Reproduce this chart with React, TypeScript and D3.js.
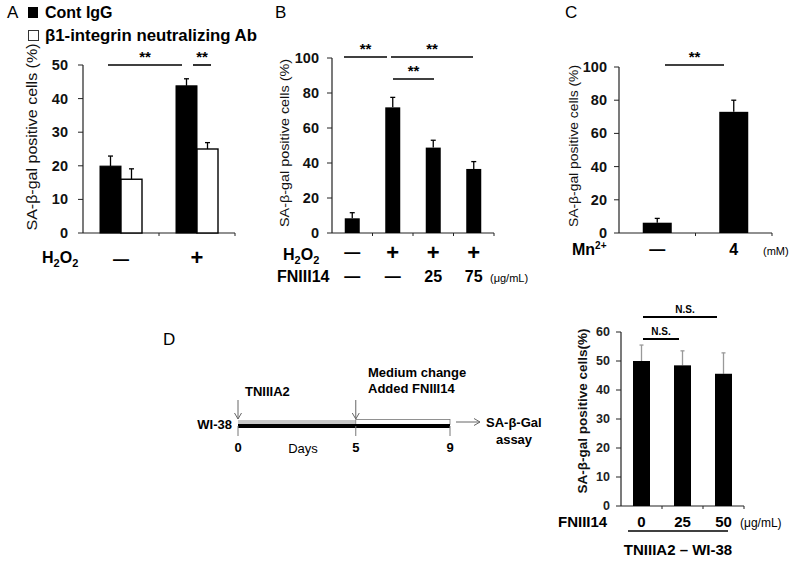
import React from "react";
import * as d3 from "d3";

// ---------- DATA ----------
const groupsA = ["—", "+"];
const contIgG = [19.9, 43.8];
const contIgGErr = [3.0, 2.1];
const neutAb = [16.0, 25.0];
const neutAbErr = [3.1, 1.9];
const ticksA = [0, 10, 20, 30, 40, 50];

const h2o2B = ["—", "+", "+", "+"];
const fnB = ["—", "—", "25", "75"];
const valuesB = [8.4, 71.8, 48.8, 36.6];
const errB = [3.2, 5.7, 4.2, 4.2];
const ticksB = [0, 20, 40, 60, 80, 100];

const mnC = ["—", "4"];
const valuesC = [6.2, 73.0];
const errC = [2.6, 7.0];
const ticksC = [0, 20, 40, 60, 80, 100];

const fnD = ["0", "25", "50"];
const valuesD = [50.0, 48.5, 45.6];
const errD = [5.5, 5.0, 7.2];
const ticksD = [0, 10, 20, 30, 40, 50, 60];

const timelineTicks = [0, 5, 9];

const FONT = "'Liberation Sans', Arial, Helvetica, sans-serif";

type AxisProps = {
  x0: number; x1: number; y: d3.ScaleLinear<number, number>; ticks: number[];
  bandTicks: number[]; fontSize: number; weight?: string | number; labelColor?: string; gap?: number;
};

function Axes({ x0, x1, y, ticks, bandTicks, fontSize, weight = "bold", labelColor = "#111", gap = 13 }: AxisProps) {
  const y0 = y(0);
  const yTop = y(ticks[ticks.length - 1]);
  return (
    <g>
      <line x1={x0} x2={x0} y1={yTop} y2={y0} stroke="#222" strokeWidth={1.2} />
      <line x1={x0} x2={x1} y1={y0} y2={y0} stroke="#222" strokeWidth={1.2} />
      {ticks.map((t) => (
        <g key={t}>
          <line x1={x0 - 5} x2={x0} y1={y(t)} y2={y(t)} stroke="#222" strokeWidth={1} />
          <text x={x0 - gap} y={y(t)} dy="0.35em" textAnchor="end" fontSize={fontSize} fontWeight={weight} fill={labelColor}>
            {t}
          </text>
        </g>
      ))}
      {bandTicks.map((bx, i) => (
        <line key={i} x1={bx} x2={bx} y1={y0} y2={y0 + 3} stroke="#222" strokeWidth={1} />
      ))}
    </g>
  );
}

function ErrBar({ x, yv, ye, color = "#000", cap = 5 }: { x: number; yv: number; ye: number; color?: string; cap?: number }) {
  return (
    <g>
      <line x1={x} x2={x} y1={yv} y2={ye} stroke={color} strokeWidth={1.3} />
      <line x1={x - cap / 2} x2={x + cap / 2} y1={ye} y2={ye} stroke={color} strokeWidth={1.3} />
    </g>
  );
}

function Sig({ x1, x2, y, label, fontSize = 15 }: { x1: number; x2: number; y: number; label: string; fontSize?: number }) {
  return (
    <g>
      <line x1={x1} x2={x2} y1={y} y2={y} stroke="#000" strokeWidth={1.6} />
      <text x={(x1 + x2) / 2} y={y - 3} textAnchor="middle" fontSize={fontSize} fontWeight="bold">
        {label}
      </text>
    </g>
  );
}

function YLabel({ x, cy, len, text, size = 13, weight = "normal" }: { x: number; cy: number; len: number; text: string; size?: number; weight?: string }) {
  return (
    <text
      transform={`translate(${x},${cy}) rotate(-90)`}
      textAnchor="middle"
      fontSize={size}
      fontWeight={weight}
      textLength={len}
      lengthAdjust="spacingAndGlyphs"
      fill="#111"
    >
      {text}
    </text>
  );
}

function PanelA() {
  const x0 = 83, x1 = 235;
  const y = d3.scaleLinear().domain([0, 50]).range([233, 65]);
  const xb = d3.scaleBand<string>().domain(groupsA).range([x0, x1]).paddingInner(0).paddingOuter(0);
  const bw = 21;
  const bandTicks = [x0 + xb.step(), x1];
  return (
    <g>
      <text x={7} y={18} fontSize={17}>A</text>
      <rect x={28} y={7} width={10} height={11} fill="#000" />
      <text x={45} y={18} fontSize={16} fontWeight="bold">Cont IgG</text>
      <rect x={28.5} y={30.5} width={10} height={10} fill="#fff" stroke="#333" strokeWidth={1} />
      <text x={45} y={41} fontSize={16} fontWeight="bold" textLength={212} lengthAdjust="spacingAndGlyphs">β1-integrin neutralizing Ab</text>
      <Axes x0={x0} x1={x1} y={y} ticks={ticksA} bandTicks={bandTicks} fontSize={14.5} gap={15} />
      <YLabel x={37} cy={137} len={187} text="SA-β-gal positive cells (%)" size={14} />
      {groupsA.map((g, i) => {
        const c = (xb(g) as number) + xb.bandwidth() / 2;
        return (
          <g key={g}>
            <rect x={c - bw} y={y(contIgG[i])} width={bw} height={y(0) - y(contIgG[i])} fill="#000" stroke="#000" />
            <rect x={c} y={y(neutAb[i])} width={bw} height={y(0) - y(neutAb[i])} fill="#fff" stroke="#000" strokeWidth={1.4} />
            <ErrBar x={c - bw / 2} yv={y(contIgG[i])} ye={y(contIgG[i] + contIgGErr[i])} />
            <ErrBar x={c + bw / 2} yv={y(neutAb[i])} ye={y(neutAb[i] + neutAbErr[i])} />
            <text x={c} y={265} textAnchor="middle" fontSize={g === "+" ? 22 : 16} fontWeight="bold">{g}</text>
          </g>
        );
      })}
      <Sig x1={108} x2={182} y={65} label="**" />
      <Sig x1={193} x2={211} y={65} label="**" />
      <text x={42} y={263} fontSize={16} fontWeight="bold">
        H<tspan fontSize={11} dy={4}>2</tspan><tspan dy={-4}>O</tspan><tspan fontSize={11} dy={4}>2</tspan>
      </text>
    </g>
  );
}

function PanelB() {
  const x0 = 332, x1 = 494;
  const y = d3.scaleLinear().domain([0, 100]).range([233, 58]);
  const idx = valuesB.map((_, i) => String(i));
  const xb = d3.scaleBand<string>().domain(idx).range([x0, x1]);
  const bw = 15;
  const bandTicks = idx.slice(1).map((d) => xb(d) as number).concat([x1]);
  return (
    <g>
      <text x={275} y={18} fontSize={17}>B</text>
      <Axes x0={x0} x1={x1} y={y} ticks={ticksB} bandTicks={bandTicks} fontSize={14.5} gap={13} />
      <YLabel x={289} cy={143} len={168} text="SA-β-gal positive cells (%)" size={13} />
      {valuesB.map((v, i) => {
        const c = (xb(String(i)) as number) + xb.bandwidth() / 2;
        return (
          <g key={i}>
            <rect x={c - bw / 2} y={y(v)} width={bw} height={y(0) - y(v)} fill="#000" />
            <ErrBar x={c} yv={y(v)} ye={y(v + errB[i])} />
            <text x={c} y={h2o2B[i] === "+" ? 260 : 258} textAnchor="middle" fontSize={h2o2B[i] === "+" ? 22 : 16} fontWeight="bold">{h2o2B[i]}</text>
            <text x={c} y={282} textAnchor="middle" fontSize={16} fontWeight="bold">{fnB[i]}</text>
          </g>
        );
      })}
      <Sig x1={344} x2={387} y={57} label="**" />
      <Sig x1={391} x2={473} y={57} label="**" />
      <Sig x1={393} x2={434} y={79} label="**" />
      <text x={283} y={260} fontSize={16} fontWeight="bold">
        H<tspan fontSize={11} dy={4}>2</tspan><tspan dy={-4}>O</tspan><tspan fontSize={11} dy={4}>2</tspan>
      </text>
      <text x={277} y={282} fontSize={16} fontWeight="bold">FNIII14</text>
      <text x={490} y={282} fontSize={11}>(μg/mL)</text>
    </g>
  );
}

function PanelC() {
  const x0 = 619, x1 = 772;
  const y = d3.scaleLinear().domain([0, 100]).range([233, 67]);
  const xb = d3.scaleBand<string>().domain(mnC).range([x0, x1]);
  const bw = 29;
  const bandTicks = [xb(mnC[1]) as number, x1];
  return (
    <g>
      <text x={565} y={18} fontSize={17}>C</text>
      <Axes x0={x0} x1={x1} y={y} ticks={ticksC} bandTicks={bandTicks} fontSize={14.5} gap={12} />
      <YLabel x={578} cy={146} len={162} text="SA-β-gal positive cells (%)" size={13} />
      {valuesC.map((v, i) => {
        const c = (xb(mnC[i]) as number) + xb.bandwidth() / 2;
        return (
          <g key={i}>
            <rect x={c - bw / 2} y={y(v)} width={bw} height={y(0) - y(v)} fill="#000" />
            <ErrBar x={c} yv={y(v)} ye={y(v + errC[i])} />
            <text x={c} y={255} textAnchor="middle" fontSize={16} fontWeight="bold">{mnC[i]}</text>
          </g>
        );
      })}
      <Sig x1={665} x2={724} y={65} label="**" />
      <text x={572} y={255} fontSize={16} fontWeight="bold">
        Mn<tspan fontSize={10} dy={-6}>2+</tspan>
      </text>
      <text x={763} y={255} fontSize={11}>(mM)</text>
    </g>
  );
}

function Timeline() {
  const t = d3.scaleLinear().domain([0, 9]).range([238, 450]);
  const yb = 426;
  return (
    <g>
      <text x={163} y={345} fontSize={17}>D</text>
      <text x={232} y={429} textAnchor="end" fontSize={13} fontWeight="bold">WI-38</text>
      <rect x={t(0)} y={yb - 6} width={t(5) - t(0)} height={4} fill="#c8c8c8" />
      <rect x={t(5)} y={yb - 6.5} width={t(9) - t(5)} height={5} fill="#fff" stroke="#777" strokeWidth={0.8} />
      <rect x={t(0)} y={yb - 2} width={t(9) - t(0)} height={4} fill="#000" />
      {timelineTicks.map((d) => (
        <g key={d}>
          <line x1={t(d)} x2={t(d)} y1={yb} y2={yb + 10} stroke="#777" strokeWidth={1} />
          <text x={t(d)} y={452} textAnchor="middle" fontSize={13} fontWeight="bold">{d}</text>
        </g>
      ))}
      <text x={303} y={453} textAnchor="middle" fontSize={13}>Days</text>
      {[0, 5].map((d) => (
        <g key={d}>
          <line x1={t(d)} x2={t(d)} y1={400} y2={419} stroke="#666" strokeWidth={1} />
          <path d={`M${t(d) - 3.5},${413} L${t(d)},${419} L${t(d) + 3.5},${413}`} fill="none" stroke="#666" strokeWidth={1} />
        </g>
      ))}
      <text x={245} y={396} fontSize={13} fontWeight="bold">TNIIIA2</text>
      <text x={368} y={377} fontSize={13} fontWeight="bold">Medium change</text>
      <text x={368} y={393} fontSize={13} fontWeight="bold">Added FNIII14</text>
      <line x1={456} x2={480} y1={422} y2={422} stroke="#666" strokeWidth={1} />
      <path d="M474,418.5 L480,422 L474,425.5" fill="none" stroke="#666" strokeWidth={1} />
      <text x={486} y={427} fontSize={13} fontWeight="bold">SA-β-Gal</text>
      <text x={514} y={444} textAnchor="middle" fontSize={13} fontWeight="bold">assay</text>
    </g>
  );
}

function PanelD() {
  const x0 = 621, x1 = 744;
  const y = d3.scaleLinear().domain([0, 60]).range([506, 332]);
  const xb = d3.scaleBand<string>().domain(fnD).range([x0, x1]);
  const bw = 17;
  const bandTicks = fnD.slice(1).map((d) => xb(d) as number).concat([x1]);
  return (
    <g>
      <Axes x0={x0} x1={x1} y={y} ticks={ticksD} bandTicks={bandTicks} fontSize={12.5} weight="bold" labelColor="#222" gap={11} />
      <YLabel x={587} cy={411} len={165} text="SA-β-gal positive cells(%)" size={13} weight="bold" />
      {valuesD.map((v, i) => {
        const c = (xb(fnD[i]) as number) + xb.bandwidth() / 2;
        return (
          <g key={i}>
            <ErrBar x={c} yv={y(v)} ye={y(v + errD[i])} color="#999" cap={4} />
            <rect x={c - bw / 2} y={y(v)} width={bw} height={y(0) - y(v)} fill="#000" />
            <text x={c} y={527} textAnchor="middle" fontSize={15} fontWeight="bold">{fnD[i]}</text>
          </g>
        );
      })}
      <line x1={643} x2={679} y1={339} y2={339} stroke="#000" strokeWidth={1.8} />
      <text x={661} y={335} textAnchor="middle" fontSize={10} fontWeight="bold">N.S.</text>
      <line x1={643} x2={717} y1={317} y2={317} stroke="#000" strokeWidth={1.8} />
      <text x={685} y={313} textAnchor="middle" fontSize={10} fontWeight="bold">N.S.</text>
      <text x={558} y={527} fontSize={15} fontWeight="bold">FNIII14</text>
      <text x={740} y={527} fontSize={12}>(μg/mL)</text>
      <line x1={628} x2={728} y1={531} y2={531} stroke="#000" strokeWidth={1.6} />
      <text x={678} y={555} textAnchor="middle" fontSize={15} fontWeight="bold">TNIIIA2 – WI-38</text>
    </g>
  );
}

export default function App() {
  return (
    <svg
      width={800}
      height={561}
      viewBox="0 0 800 561"
      style={{ position: "absolute", left: 0, top: 0, background: "#fff", fontFamily: FONT }}
    >
      <rect width={800} height={561} fill="#fff" />
      <PanelA />
      <PanelB />
      <PanelC />
      <Timeline />
      <PanelD />
    </svg>
  );
}
